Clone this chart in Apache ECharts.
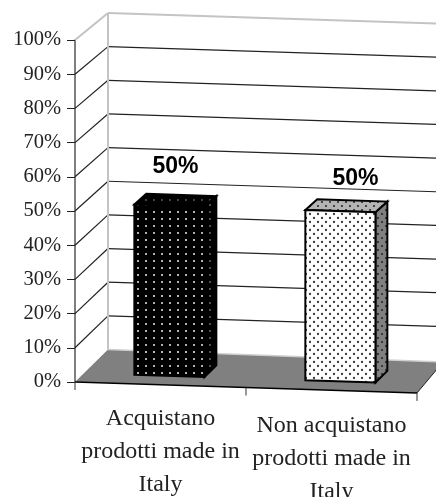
<!DOCTYPE html>
<html>
<head>
<meta charset="utf-8">
<style>html,body{margin:0;padding:0;background:#fff}#chart{width:436px;height:497px}</style>
<script src="https://cdn.jsdelivr.net/npm/echarts@6/dist/echarts.min.js"></script>
</head>
<body>
<div id="chart"></div>
<script>
// Share of respondents by purchasing behaviour
const categories = ['Acquistano\nprodotti made in\nItaly', 'Non acquistano\nprodotti made in\nItaly'];
const shares = [50, 50];
const tickValues = [0, 10, 20, 30, 40, 50, 60, 70, 80, 90, 100];

// Oblique box projection: depth rises a little less near the top of the box
const DEPTH_X = 33, DEPTH_Y_TOP = 27, DEPTH_Y_BOTTOM = 32.5, SKEW = 0.032;
const PLOT_TOP = 40, PLOT_SIZE = 342;
const BAR_FRONT = 0.27, BAR_BACK = 0.63, BAR_WIDTH = 0.41;
const labelNudge = [[6, -39], [15, -33]];

function dotTile(w, h, bg, dots, colour, r) {
  const c = document.createElement('canvas');
  c.width = w; c.height = h;
  const g = c.getContext('2d');
  g.fillStyle = bg; g.fillRect(0, 0, w, h);
  g.fillStyle = colour;
  dots.forEach(d => { g.beginPath(); g.arc(d[0], d[1], r, 0, Math.PI * 2); g.fill(); });
  return { image: c, repeat: 'repeat' };
}
const square = [[2, 2]];
const stagger = [[2, 2], [6, 6]];
const faces = [
  { front: dotTile(8, 7, '#000', square, '#eee', 1), side: dotTile(8, 7, '#000', square, '#777', 0.9), top: dotTile(8, 7, '#000', [[2, 4]], '#999', 0.8), stroke: '#000' },
  { front: dotTile(8, 8, '#fff', stagger, '#3a3a3a', 1.15), side: dotTile(8, 8, '#808080', stagger, '#222', 1), top: dotTile(8, 8, '#b4b4b4', stagger, '#222', 1), stroke: '#000' }
];

const chart = echarts.init(document.getElementById('chart'), null, { renderer: 'canvas' });

// Projects a screen position on the front plane back to the given depth
function skewed(x, y, originX, depth) {
  const rise = DEPTH_Y_TOP + (y - PLOT_TOP) / PLOT_SIZE * (DEPTH_Y_BOTTOM - DEPTH_Y_TOP);
  return [x + DEPTH_X * depth, y + SKEW * (x - originX) - rise * depth];
}

function renderFrame(params, api) {
  const v = api.value(0);
  const left = params.coordSys.x, right = left + params.coordSys.width;
  const y = api.coord([0, v])[1];
  const a = skewed(left, y, left, 0), b = skewed(left, y, left, 1), c = skewed(right, y, left, 1);
  const top = v === 100;
  const children = [];
  if (v === 0) {
    const fr = skewed(right, y, left, 0);
    const backRight = [right + 26, y - 20];
    children.push({ type: 'polygon', shape: { points: [a, b, backRight, fr] }, style: { fill: '#808080' } });
    children.push({ type: 'line', shape: { x1: b[0], y1: b[1], x2: backRight[0], y2: backRight[1] }, style: { stroke: '#cfcfcf', lineWidth: 1.5 } });
    children.push({ type: 'line', shape: { x1: a[0], y1: a[1], x2: fr[0], y2: fr[1] }, style: { stroke: '#000', lineWidth: 1.5 } });
    children.push({ type: 'line', shape: { x1: fr[0], y1: fr[1], x2: backRight[0], y2: backRight[1] }, style: { stroke: '#222', lineWidth: 1 } });
    [left, (left + right) / 2, right].forEach(x => {
      const t = skewed(x, y, left, 0);
      children.push({ type: 'line', shape: { x1: t[0], y1: t[1], x2: t[0], y2: t[1] + 8 }, style: { stroke: '#333', lineWidth: 1 } });
    });
    return { type: 'group', children };
  }
  const stroke = top ? '#c4c4c4' : '#222';
  const lw = top ? 2 : 1.2;
  children.push({ type: 'line', shape: { x1: a[0], y1: a[1], x2: b[0], y2: b[1] }, style: { stroke, lineWidth: lw } });
  children.push({ type: 'line', shape: { x1: b[0], y1: b[1], x2: c[0], y2: c[1] }, style: { stroke, lineWidth: lw } });
  if (top) {
    const y0 = api.coord([0, 0])[1];
    const base = skewed(left, y0, left, 1);
    children.push({ type: 'line', shape: { x1: b[0], y1: b[1], x2: base[0], y2: base[1] }, style: { stroke: '#c4c4c4', lineWidth: 2 } });
  }
  return { type: 'group', children };
}

function renderBar(params, api) {
  const i = params.dataIndex;
  const value = api.value(1);
  const centre = api.coord([i, 0]);
  const band = api.size([1, 0])[0];
  const origin = params.coordSys.x;
  const yTop = api.coord([i, value])[1], yBase = centre[1];
  const x0 = centre[0] - band * BAR_WIDTH / 2, x1 = centre[0] + band * BAR_WIDTH / 2;
  const f = faces[i];
  const pt = (x, y, d) => skewed(x, y, origin, d);
  const fl = pt(x0, yTop, BAR_FRONT), fr = pt(x1, yTop, BAR_FRONT);
  const bl = pt(x0, yTop, BAR_BACK), br = pt(x1, yTop, BAR_BACK);
  const fbl = pt(x0, yBase, BAR_FRONT), fbr = pt(x1, yBase, BAR_FRONT), bbr = pt(x1, yBase, BAR_BACK);
  const outline = { stroke: f.stroke, lineWidth: 2, lineJoin: 'miter' };
  const mid = pt(centre[0], yTop, BAR_FRONT);
  return {
    type: 'group',
    children: [
      { type: 'polygon', shape: { points: [fr, br, bbr, fbr] }, style: Object.assign({ fill: f.side }, outline) },
      { type: 'polygon', shape: { points: [fl, bl, br, fr] }, style: Object.assign({ fill: f.top }, outline) },
      { type: 'polygon', shape: { points: [fl, fr, fbr, fbl] }, style: Object.assign({ fill: f.front }, outline) },
      {
        type: 'text',
        style: {
          x: mid[0] + labelNudge[i][0], y: mid[1] + labelNudge[i][1],
          text: value + '%', align: 'center', verticalAlign: 'middle',
          font: 'bold 23px "Liberation Sans", Arial, sans-serif', fill: '#000'
        }
      }
    ]
  };
}

chart.setOption({
  animation: false,
  backgroundColor: '#fff',
  grid: { left: 75, top: PLOT_TOP, width: PLOT_SIZE, height: PLOT_SIZE, containLabel: false, outerBoundsMode: 'none' },
  xAxis: {
    type: 'category',
    data: [
      { value: categories[0] },
      { value: categories[1], textStyle: { padding: [7, 0, 0, 0] } }
    ],
    axisLine: { show: false },
    axisTick: { show: false },
    axisLabel: {
      interval: 0, margin: 20, color: '#222', lineHeight: 33,
      fontFamily: '"Liberation Serif", serif', fontSize: 24
    }
  },
  yAxis: {
    type: 'value', min: 0, max: 100, interval: 10,
    axisLine: { show: true, lineStyle: { color: '#555', width: 1.5 } },
    axisTick: { show: true, length: 8, lineStyle: { color: '#222', width: 1 } },
    splitLine: { show: false },
    axisLabel: {
      margin: 14, color: '#222', formatter: '{value}%',
      fontFamily: '"Liberation Serif", serif', fontSize: 20.5, padding: [0, 0, 3, 0]
    }
  },
  series: [
    {
      name: 'Griglia', type: 'custom', coordinateSystem: 'cartesian2d', silent: true, z: 1,
      encode: { x: 1, y: 0 },
      data: tickValues.map(v => [v, categories[0]]),
      renderItem: (params, api) => renderFrame(params, { value: () => tickValues[params.dataIndex], coord: api.coord })
    },
    {
      name: 'Quota', type: 'custom', coordinateSystem: 'cartesian2d', silent: true, z: 3,
      encode: { x: 0, y: 1 },
      data: shares.map((v, i) => [i, v]),
      renderItem: renderBar
    }
  ]
});
</script>
</body>
</html>
